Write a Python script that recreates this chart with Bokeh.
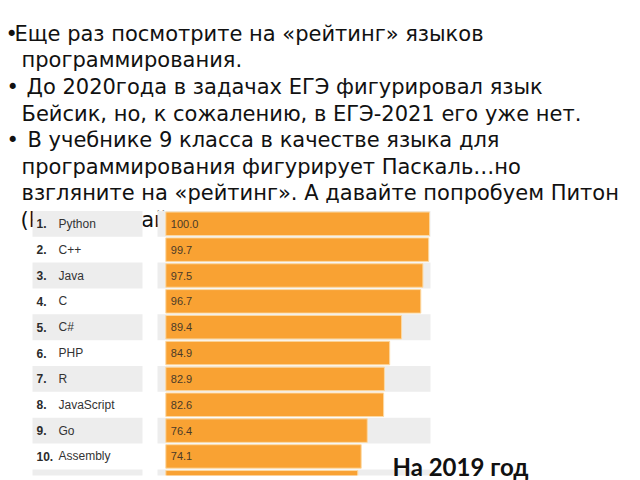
from bokeh.plotting import figure
from bokeh.models import Range1d, ColumnDataSource
from bokeh.core.properties import value
from bokeh.embed import file_html
from bokeh.resources import INLINE

# ---------------- data ----------------
ranks = [1, 2, 3, 4, 5, 6, 7, 8, 9, 10, 11]
languages = ["Python", "C++", "Java", "C", "C#", "PHP", "R",
             "JavaScript", "Go", "Assembly", "Matlab"]
scores = [100.0, 99.7, 97.5, 96.7, 89.4, 84.9, 82.9, 82.6, 76.4, 74.1, 72.8]

slide_lines = [
    "Еще раз посмотрите на «рейтинг» языков",
    "программирования.",
    "До 2020года в задачах ЕГЭ фигурировал язык",
    "Бейсик, но,  к сожалению, в ЕГЭ-2021 его уже нет.",
    "В учебнике 9 класса в качестве языка для",
    "программирования фигурирует Паскаль…но",
    "взгляните на «рейтинг». А давайте попробуем Питон",
    "(Python – Пайтон)",
]
bullet_lines = [0, 2, 4]
caption = "На 2019 год"

# ---------------- layout ----------------
W, H = 640, 480
PX0 = 165.3          # pixel where score 0 sits
PX_PER = 2.637       # pixels per score unit
ROW0 = 223.3         # pixel centre of rank 1
PITCH = 25.85        # row pitch in pixels
CUT = 475            # the embedded table picture ends here
N_LABELLED = 10      # rows whose labels are visible

p = figure(width=W, height=H, output_backend="svg", toolbar_location=None,
           x_range=Range1d(0, W), y_range=Range1d(H, 0),
           min_border=0, x_axis_location=None, y_axis_location=None)
p.extra_x_ranges = {"val": Range1d(-PX0 / PX_PER, (W - PX0) / PX_PER)}
p.extra_y_ranges = {"rank": Range1d(1 + (H - ROW0) / PITCH, 1 - ROW0 / PITCH)}
p.grid.visible = False
p.outline_line_color = None
p.background_fill_color = "white"
p.border_fill_color = "white"

# slide text (drawn first so the chart covers the last line)
line_x = [14, 21, 26, 21, 27, 21, 21, 20]
base0, lstep = 33.3, 26.57
src_txt = ColumnDataSource(dict(
    x=line_x, y=[base0 + i * lstep for i in range(len(slide_lines))],
    t=slide_lines))
p.text(x="x", y="y", text="t", source=src_txt, text_font=value("DejaVu Sans"),
       text_font_size="21px", text_color="#111111", text_baseline="alphabetic")
src_b = ColumnDataSource(dict(
    x=[5, 6, 6], y=[base0 + i * lstep for i in bullet_lines], t=["•"] * 3))
p.text(x="x", y="y", text="t", source=src_b, text_font=value("DejaVu Sans"),
       text_font_size="21px", text_color="#111111", text_baseline="alphabetic")

# alternating row bands
odd = [r for r in ranks if r % 2 == 1]
p.hbar(y=odd, left=32, right=142, height=1.0, y_range_name="rank",
       fill_color="#ededed", line_color=None)
p.hbar(y=odd, left=157, right=430, height=1.0, y_range_name="rank",
       fill_color="#ededed", line_color=None)

# bars
src = ColumnDataSource(dict(rank=ranks, score=scores))
p.hbar(y="rank", left=0, right="score", height=0.91, source=src,
       x_range_name="val", y_range_name="rank",
       fill_color="#f9a233", line_color="#fcd9a3", line_width=1)

# table texts (only the rows that are fully visible)
lab_src = ColumnDataSource(dict(
    rank=ranks[:N_LABELLED], lang=languages[:N_LABELLED],
    num=[f"{r}." for r in ranks[:N_LABELLED]],
    lab=[f"{s:.1f}" for s in scores[:N_LABELLED]]))
p.text(x=36, y="rank", text="num", source=lab_src, y_range_name="rank",
       text_font=value("Liberation Sans"), text_font_style="bold",
       text_font_size="12px", text_color="#2b2b2b", text_baseline="middle")
p.text(x=58, y="rank", text="lang", source=lab_src, y_range_name="rank",
       text_font=value("Liberation Sans"), text_font_size="12px",
       text_color="#333333", text_baseline="middle")
p.text(x=0, y="rank", text="lab", source=lab_src, x_range_name="val",
       y_range_name="rank", x_offset=5,
       text_font=value("Liberation Sans"), text_font_size="11px",
       text_color="#4a3a28", text_baseline="middle")

# the table picture is cropped at the bottom
p.quad(left=0, right=431, top=CUT, bottom=H, fill_color="white", line_color=None)

# caption
p.text(x=[392], y=[466], text=[caption], text_font=value("Lato"),
       text_font_style="bold", text_font_size="24px", text_color="#111111",
       text_baseline="alphabetic")

open("out.html", "w").write(file_html(p, INLINE))
